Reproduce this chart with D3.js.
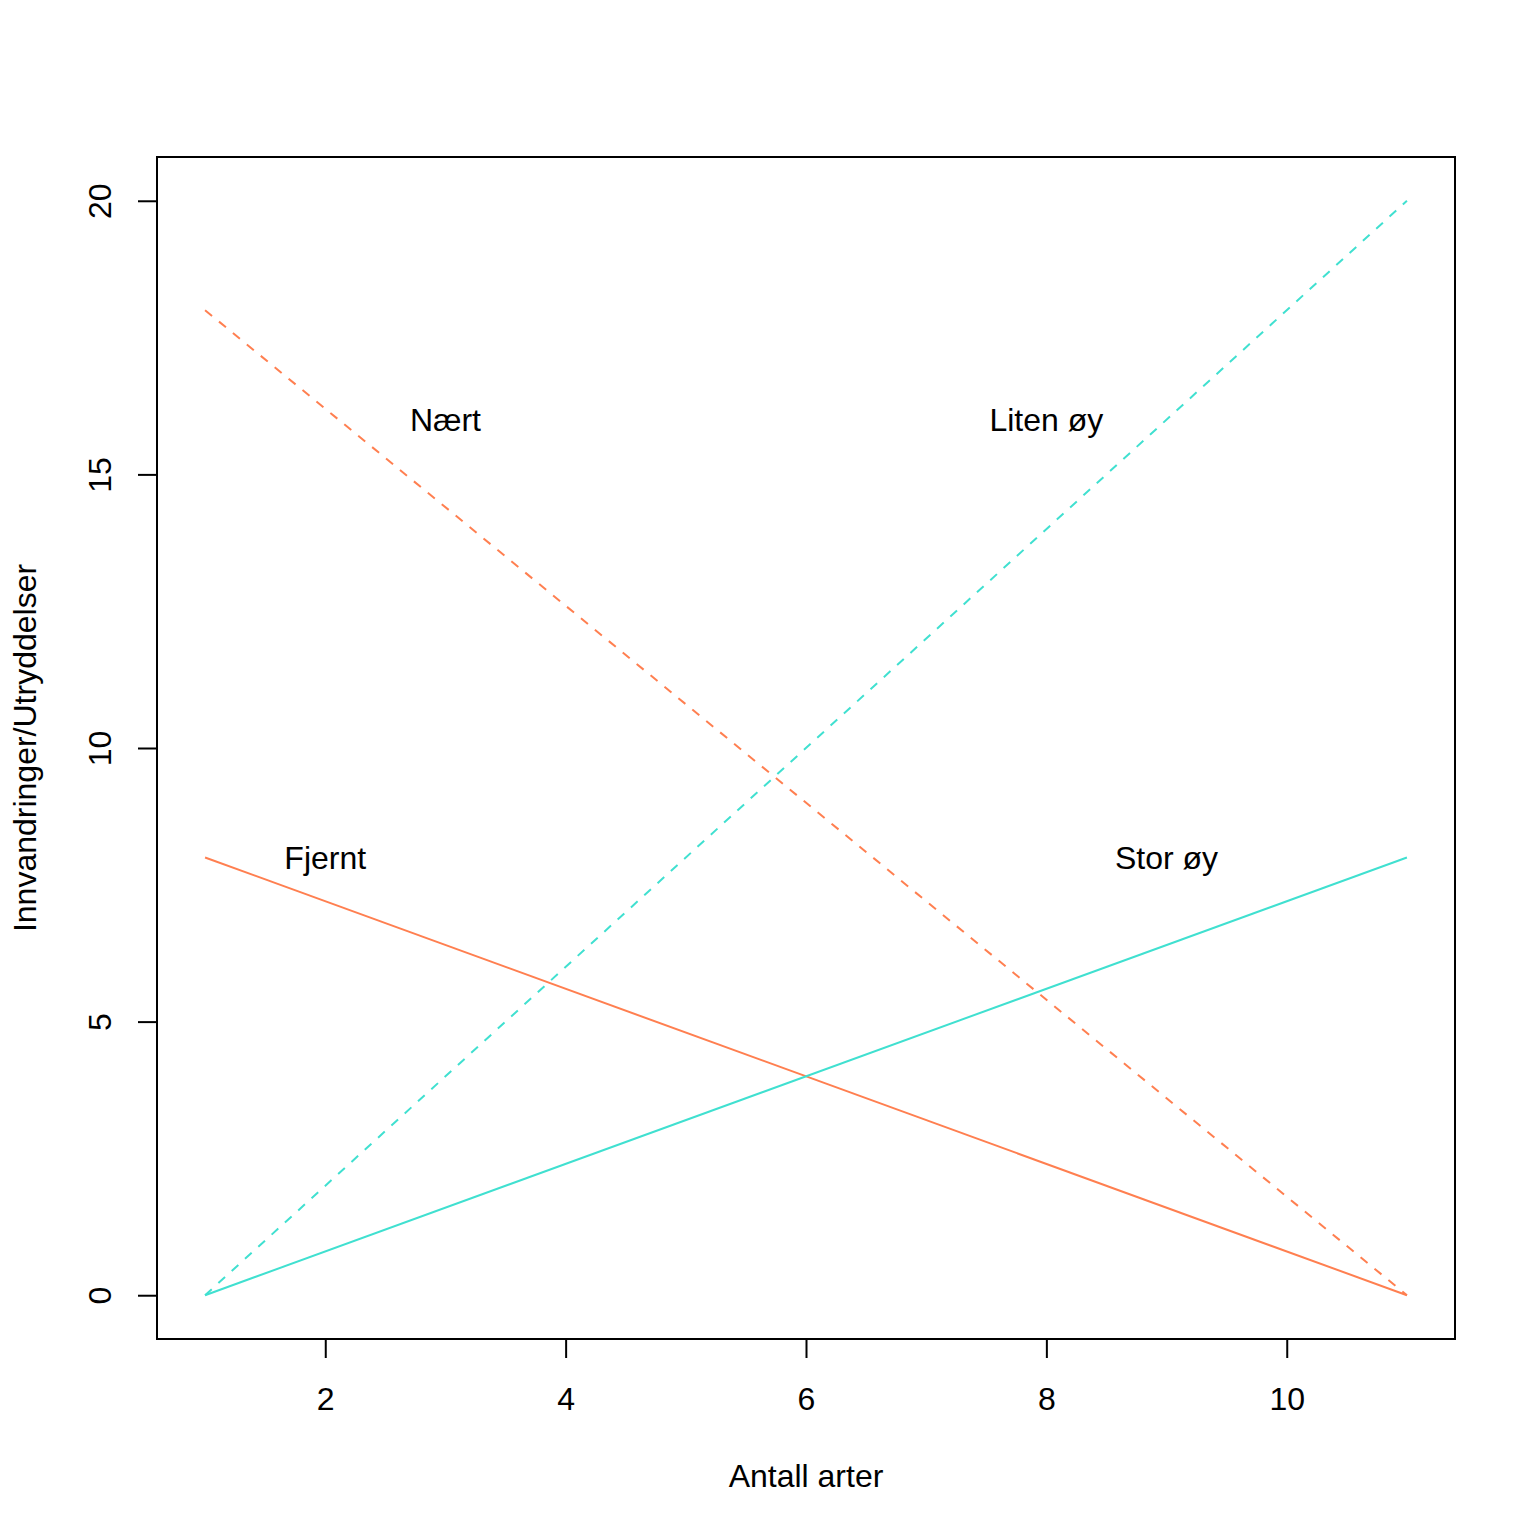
<!DOCTYPE html>
<html>
<head>
<meta charset="utf-8">
<script src="https://cdn.jsdelivr.net/npm/d3@7"></script>
<style>
   body { margin: 0; background: #fff; }
   text { font-family: "Liberation Sans", Arial, sans-serif; fill: #000; }
</style>
</head>
<body>
<div id="chart"></div>
<script>

// DATA -- ENDPOINTS OF EACH LINE
var species = [1, 11];
var fjernt = [8, 0];
var naert = [18, 0];
var stor = [0, 8];
var liten = [0, 20];

// TICK VALUES
var xTicks = [2, 4, 6, 8, 10];
var yTicks = [0, 5, 10, 15, 20];

// LINE LABELS
var labelNames = ['Nært', 'Liten øy', 'Fjernt', 'Stor øy'];
var labelX = [3, 8, 2, 9];
var labelY = [16, 16, 8, 8];

// SETTINGS
var settings = {
   width: 1536,
   height: 1536,
   left: 157, right: 1455,
   top: 157, bottom: 1339,
   font: 32,
   orange: '#FF7F50',
   turquoise: '#40E0D0'
};

// SCALES -- R STYLE 4% PADDING
var xScale = d3.scaleLinear()
   .domain([0.6, 11.4])
   .range([settings.left, settings.right])

var yScale = d3.scaleLinear()
   .domain([-0.8, 20.8])
   .range([settings.bottom, settings.top])

// CANVAS
var canvas = d3.select('#chart').append('svg')
   .attr('width', settings.width)
   .attr('height', settings.height)

canvas.append('rect')
   .attr('width', settings.width)
   .attr('height', settings.height)
   .attr('fill', '#fff')

// LINE GENERATOR
var linify = d3.line()
   .x((d, i) => { return xScale(species[i]) })
   .y((d) => { return yScale(d) })

// SERIES LIST
var series = [
   { values: fjernt, color: settings.orange, dash: null },
   { values: naert, color: settings.orange, dash: '9,9' },
   { values: stor, color: settings.turquoise, dash: null },
   { values: liten, color: settings.turquoise, dash: '9,9' }
];

series.forEach(s => {
   canvas.append('path')
      .attr('d', linify(s.values))
      .attr('fill', 'none')
      .attr('stroke', s.color)
      .attr('stroke-width', 2)
      .attr('stroke-dasharray', s.dash)
});

// LABELS
labelNames.forEach((name, i) => {
   canvas.append('text')
      .attr('x', xScale(labelX[i]))
      .attr('y', yScale(labelY[i]))
      .attr('dy', '0.35em')
      .attr('text-anchor', 'middle')
      .attr('font-size', settings.font)
      .text(name)
});

// BOX
canvas.append('rect')
   .attr('x', settings.left)
   .attr('y', settings.top)
   .attr('width', settings.right - settings.left)
   .attr('height', settings.bottom - settings.top)
   .attr('fill', 'none')
   .attr('stroke', '#000')
   .attr('stroke-width', 2)

// X AXIS
var xAxis = d3.axisBottom(xScale)
   .tickValues(xTicks)
   .tickSize(19)
   .tickPadding(29)

var gx = canvas.append('g')
   .attr('transform', 'translate(0,' + settings.bottom + ')')
   .call(xAxis)

gx.select('.domain')
   .attr('d', 'M' + xScale(xTicks[0]) + ',0H' + xScale(xTicks[xTicks.length - 1]))
   .attr('stroke-width', 2)
gx.selectAll('.tick line').attr('stroke-width', 2)
gx.selectAll('.tick text')
   .attr('font-size', settings.font)
   .attr('font-family', '"Liberation Sans", Arial, sans-serif')

// Y AXIS
var yAxis = d3.axisLeft(yScale)
   .tickValues(yTicks)
   .tickSize(19)
   .tickPadding(0)

var gy = canvas.append('g')
   .attr('transform', 'translate(' + settings.left + ',0)')
   .call(yAxis)

gy.select('.domain')
   .attr('d', 'M0,' + yScale(yTicks[0]) + 'V' + yScale(yTicks[yTicks.length - 1]))
   .attr('stroke-width', 2)
gy.selectAll('.tick line').attr('stroke-width', 2)
gy.selectAll('.tick text')
   .attr('font-size', settings.font)
   .attr('font-family', '"Liberation Sans", Arial, sans-serif')
   .attr('x', null)
   .attr('dy', null)
   .attr('text-anchor', 'middle')
   .attr('transform', 'translate(-57,0) rotate(-90)')
   .attr('dominant-baseline', 'central')

// AXIS TITLES
canvas.append('text')
   .attr('x', (settings.left + settings.right) / 2)
   .attr('y', 1476)
   .attr('dy', '0.35em')
   .attr('text-anchor', 'middle')
   .attr('font-size', settings.font)
   .text('Antall arter')

canvas.append('text')
   .attr('transform', 'translate(25,' + ((settings.top + settings.bottom) / 2) + ') rotate(-90)')
   .attr('dy', '0.35em')
   .attr('text-anchor', 'middle')
   .attr('font-size', settings.font)
   .text('Innvandringer/Utryddelser')

</script>
</body>
</html>
